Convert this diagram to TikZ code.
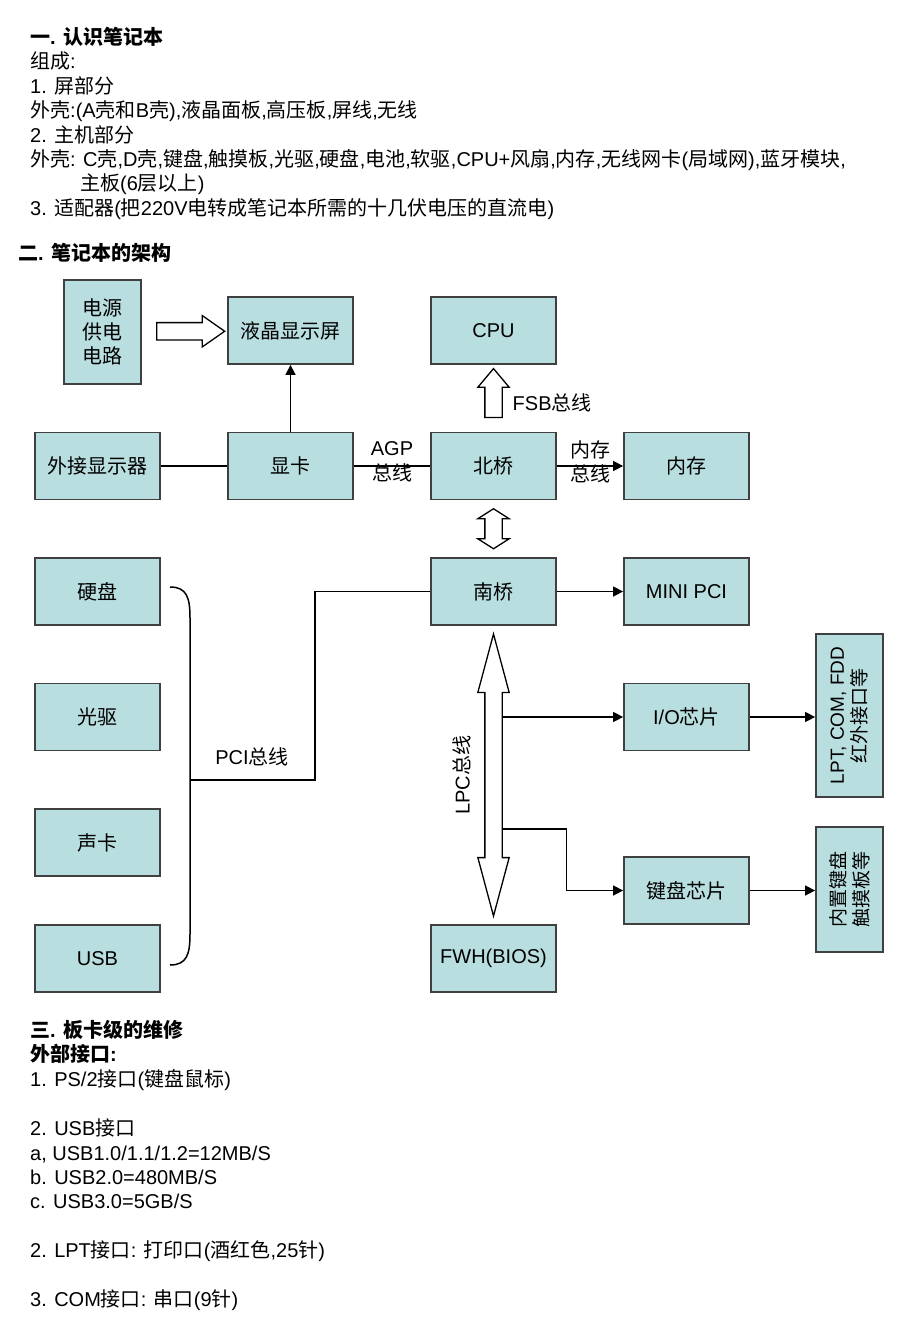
\documentclass[tikz,border=0pt]{standalone}
\usepackage{fontspec}
\setmainfont{Liberation Sans}
\newfontfamily\zhfont{Noto Sans CJK SC}
\usetikzlibrary{arrows.meta,shapes.arrows,calc}

% Chinese characters are set in the CJK font
\XeTeXinterchartokenstate=1
\newXeTeXintercharclass\zhclass
\count255="4E00
\loop
  \XeTeXcharclass\count255=\zhclass
\ifnum\count255<"9FFF \advance\count255 by 1 \repeat
\XeTeXinterchartoks 0 \zhclass = {\zhfont}
\XeTeXinterchartoks 4095 \zhclass = {\zhfont}
\XeTeXinterchartoks \zhclass 0 = {\rmfamily}
\XeTeXinterchartoks \zhclass 4095 = {\rmfamily}
\XeTeXinterchartoks \zhclass \zhclass = {}

\definecolor{boxfill}{RGB}{185,222,224}
\definecolor{boxline}{RGB}{64,64,64}

\tikzstyle {block} = [draw=boxline, fill=boxfill, line width=1.8pt, minimum width=125pt, minimum height=67pt, inner sep=0pt, align=center, font=\fontsize{20}{24}\selectfont]
\tikzstyle {sideblock} = [block, rotate=90, font=\fontsize{19}{23}\selectfont]
\tikzstyle {bus} = [line width=1.5pt]
\tikzstyle {link} = [bus, -{Triangle[length=10pt,width=10pt]}]
\tikzstyle {fat} = [draw, fill=white, line width=1.3pt, inner xsep=0pt, inner ysep=8pt]
\tikzstyle {lbl} = [inner sep=0pt, align=center, font=\fontsize{20}{24.5}\selectfont]
\tikzstyle {txt} = [anchor=base west, inner sep=0pt, font=\fontsize{20}{24.5}\selectfont]

\begin{document}
\begin{tikzpicture}[x=1pt, y=-1pt]
  \useasboundingbox (0,0) rectangle (920,1329);

  % text above and below the diagram
  \foreach \x/\y/\t [count=\i] in {
      30/45/{\bfseries 一. 认识笔记本},
      30/69/{组成:},
      30/94/{1. 屏部分},
      30/118/{外壳:(A壳和B壳),液晶面板,高压板,屏线,无线},
      30/143/{2. 主机部分},
      30/167/{外壳: C壳,D壳,键盘,触摸板,光驱,硬盘,电池,软驱,CPU+风扇,内存,无线网卡(局域网),蓝牙模块,},
      80/191/{主板(6层以上)},
      30/216/{3. 适配器(把220V电转成笔记本所需的十几伏电压的直流电)},
      18/261/{\bfseries 二. 笔记本的架构},
      30/1037/{\bfseries 三. 板卡级的维修},
      30/1061/{\bfseries 外部接口:},
      30/1086/{1. PS/2接口(键盘鼠标)},
      30/1135/{2. USB接口},
      30/1160/{a, USB1.0/1.1/1.2=12MB/S},
      30/1184/{b. USB2.0=480MB/S},
      30/1208/{c. USB3.0=5GB/S},
      30/1257/{2. LPT接口: 打印口(酒红色,25针)},
      30/1306/{3. COM接口: 串口(9针)}}
    \node [txt] (line\i) at (\x,\y) {\t};

  % blocks
  \node [block, minimum width=77pt, minimum height=104pt] (psu) at (102.5,332) {电源\\供电\\电路};
  \node [block] (lcd) at (290.5,330.5) {液晶显示屏};
  \node [block] (cpu) at (493.5,330.5) {CPU};
  \node [block] (ext) at (97.5,466) {外接显示器};
  \node [block] (gpu) at (290.5,466) {显卡};
  \node [block] (nb) at (493.5,466) {北桥};
  \node [block] (mem) at (686.5,466) {内存};
  \node [block] (sb) at (493.5,591.5) {南桥};
  \node [block] (mpci) at (686.5,591.5) {MINI PCI};
  \node [block] (hdd) at (97.5,591.5) {硬盘};
  \node [block] (odd) at (97.5,717) {光驱};
  \node [block] (snd) at (97.5,842.5) {声卡};
  \node [block] (usb) at (97.5,958.5) {USB};
  \node [block] (io) at (686.5,717) {I/O芯片};
  \node [block] (kbc) at (686.5,890.5) {键盘芯片};
  \node [block] (fwh) at (493.5,958.5) {FWH(BIOS)};
  \node [sideblock, minimum width=163pt] (lpt) at (849.5,715.5) {LPT, COM, FDD\\红外接口等};
  \node [sideblock] (kbin) at (849.5,889.5) {内置键盘\\触摸板等};

  % block arrows
  \node [fat, single arrow, minimum height=68pt, single arrow head extend=7pt, single arrow tip angle=70] (pwr) at ($(psu.east)!0.5!(lcd.west)$) {};
  \node [fat, single arrow, rotate=90, minimum height=49pt, single arrow head extend=7pt, single arrow tip angle=80] (fsb) at ($(nb.north)!0.5!(cpu.south)$) {};
  \node [lbl, anchor=west] (fsbl) at ($(fsb.center)+(19,5)$) {FSB总线};
  \node [fat, double arrow, rotate=90, minimum height=40pt, double arrow head extend=7pt, double arrow tip angle=115] (nbsb) at ($(nb.south)!0.5!(sb.north)$) {};
  \node [fat, double arrow, rotate=90, minimum height=282pt, double arrow head extend=7pt, double arrow tip angle=30] (lpc) at ($(sb.south)!0.5!(fwh.north)$) {};
  \node [lbl, rotate=90] (lpcl) at (462,775) {LPC总线};

  % buses
  \draw [bus] (ext) -- (gpu);
  \draw [link] (gpu) -- (lcd);
  \draw [bus] (gpu) -- node [lbl, yshift=4pt] (agp) {AGP\\总线} (nb);
  \draw [link] (nb) -- node [lbl, yshift=4pt] (membus) {内存\\总线} (mem);
  \draw [link] (sb) -- (mpci);
  \coordinate (iotap) at ($(lpc.center)+(8,0)$);
  \coordinate (kbtap) at ($(iotap)+(0,54)$);
  \draw [link] (io.west -| iotap) -- (io.west);
  \draw [link] (kbtap) -- ++(65,0) |- (kbc.west);
  \draw [link] (io.east) -- (io.east -| lpt.north);
  \draw [link] (kbc.east) -- (kbc.east -| kbin.north);

  % PCI bus
  \draw [bus] (170,587) .. controls (187,587) and (190,598) .. (190,618) -- (190,934) .. controls (190,954) and (187,965) .. (170,965);
  \coordinate (pcij) at (190,780);
  \draw [bus] (pcij) -- ++(125,0) |- (sb.west);
  \node [lbl] (pcil) at (252,757) {PCI总线};
\end{tikzpicture}
\end{document}
